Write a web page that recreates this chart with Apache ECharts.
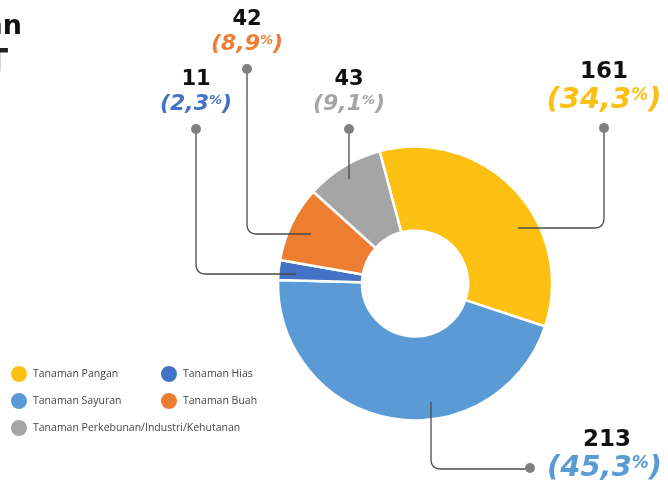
<!DOCTYPE html>
<html><head><meta charset="utf-8">
<script src="https://cdn.jsdelivr.net/npm/echarts@6/dist/echarts.min.js"></script>
<style>html,body{margin:0;padding:0;background:#fff}#c{width:668px;height:486px}</style>
</head><body><div id="c"></div>
<script>
const categories = ['Tanaman Pangan','Tanaman Sayuran','Tanaman Hias','Tanaman Buah','Tanaman Perkebunan/Industri/Kehutanan'];
const values = [161, 213, 11, 42, 43];
const percentLabels = ['34,3','45,3','2,3','8,9','9,1'];
const colors = ['#FCC013','#5B9BD5','#4472C4','#ED7D31','#A5A5A5'];

// label placement (layout only)
const labelLayouts = [
  {type:'top',  x:604, top:58,    lh:28,   big:true,  path:[[518,228],[604,228],[604,128]]},
  {type:'side', x:525, top:426,   lh:28,   big:true,  path:[[431,402],[431,469],[530,469]]},
  {type:'top',  x:196, top:67.75, lh:24.5, big:false, path:[[296,274],[196,274],[196,129]]},
  {type:'top',  x:247, top:7.75,  lh:24.5, big:false, path:[[311,234],[247,234],[247,69]]},
  {type:'top',  x:349, top:67.75, lh:24.5, big:false, path:[[349,179],[349,129]]}
];

function roundPath(pts, r){
  if (pts.length < 3) return pts;
  const out = [pts[0]];
  for (let i = 1; i < pts.length - 1; i++){
    const p0 = pts[i-1], p1 = pts[i], p2 = pts[i+1];
    const l1 = Math.hypot(p1[0]-p0[0], p1[1]-p0[1]), l2 = Math.hypot(p2[0]-p1[0], p2[1]-p1[1]);
    const d1 = [(p1[0]-p0[0])/l1, (p1[1]-p0[1])/l1], d2 = [(p2[0]-p1[0])/l2, (p2[1]-p1[1])/l2];
    const a = [p1[0]-d1[0]*r, p1[1]-d1[1]*r], b = [p1[0]+d2[0]*r, p1[1]+d2[1]*r];
    for (let k = 0; k <= 8; k++){
      const t = k/8, u = 1-t;
      out.push([u*u*a[0]+2*u*t*p1[0]+t*t*b[0], u*u*a[1]+2*u*t*p1[1]+t*t*b[1]]);
    }
  }
  out.push(pts[pts.length-1]);
  return out;
}

const FONT = 'DejaVu Sans';
const pieData = categories.map((name, i) => ({name, value: values[i], itemStyle: {color: colors[i]}}));
const labelData = categories.map((name, i) => {
  const L = labelLayouts[i];
  const lh = L.lh;
  const rich = {
    v: {fontFamily: FONT, fontWeight: 'bold', fontSize: L.big ? 23 : 21, color: '#111', lineHeight: lh,
        padding: L.type === 'side' ? [0,0,0,58] : 0},
    p: {fontFamily: FONT, fontWeight: 'bold', fontStyle: 'italic', fontSize: L.big ? 29 : 22, color: colors[i], lineHeight: lh},
    s: {fontFamily: FONT, fontWeight: 'bold', fontStyle: 'italic', fontSize: L.big ? 17 : 13, color: colors[i],
        padding: [0,0,L.big ? 9 : 7,0]},
    d: {width: 10, height: 10, borderRadius: 5, backgroundColor: '#808080', lineHeight: lh},
    g: {width: 12, lineHeight: lh}
  };
  const pct = '{p|(' + percentLabels[i] + '}{s|%}{p|)}';
  const text = L.type === 'top'
    ? '{v|' + values[i] + '}\n' + pct + '\n{d| }'
    : '{v|' + values[i] + '}\n{d| }{g| }' + pct;
  return {
    name, value: values[i],
    itemStyle: {color: 'rgba(0,0,0,0)'},
    label: {formatter: text, rich}
  };
});

const common = {
  type: 'pie',
  center: [415, 283.5],
  radius: [53, 137],
  startAngle: 105,
  clockwise: true,
  avoidLabelOverlap: false,
  emphasis: {disabled: true}
};

const legendText = {fontFamily: 'Open Sans', fontSize: 10.5, color: '#444'};
const chart = echarts.init(document.getElementById('c'), null, {renderer: 'canvas'});
chart.setOption({
  animation: false,
  backgroundColor: '#fff',
  title: [
    {text: 'an', right: 646, top: 13, padding: 0, textStyle: {fontFamily: FONT, fontWeight: 'bold', fontSize: 27, color: '#111'}},
    {text: 'T', right: 660, top: 47, padding: 0, textStyle: {fontFamily: FONT, fontWeight: 'bold', fontSize: 32, color: '#222'}}
  ],
  legend: [
    {orient: 'vertical', left: 9, top: 364, padding: 0, itemWidth: 18, itemHeight: 18, itemGap: 7, icon: 'circle',
     data: [categories[0], categories[1], categories[4]], textStyle: legendText},
    {orient: 'vertical', left: 159, top: 364, padding: 0, itemWidth: 18, itemHeight: 18, itemGap: 7, icon: 'circle',
     data: [categories[2], categories[3]], textStyle: legendText}
  ],
  series: [
    Object.assign({}, common, {
      z: 2,
      itemStyle: {borderColor: '#fff', borderWidth: 2.5},
      label: {show: false},
      labelLine: {show: false},
      data: pieData
    }),
    Object.assign({}, common, {
      z: 3,
      silent: true,
      legendHoverLink: false,
      itemStyle: {borderWidth: 0},
      label: {show: true, position: 'outside'},
      labelLine: {show: true, length: 10, length2: 10, smooth: false, lineStyle: {color: '#4a4a4a', width: 1.3}},
      labelLayout: function (params) {
        const L = labelLayouts[params.dataIndex];
        return {
          x: L.x, y: L.top,
          align: L.type === 'top' ? 'center' : 'left',
          verticalAlign: 'top',
          labelLinePoints: roundPath(L.path, 10)
        };
      },
      data: labelData
    })
  ]
});
</script></body></html>
